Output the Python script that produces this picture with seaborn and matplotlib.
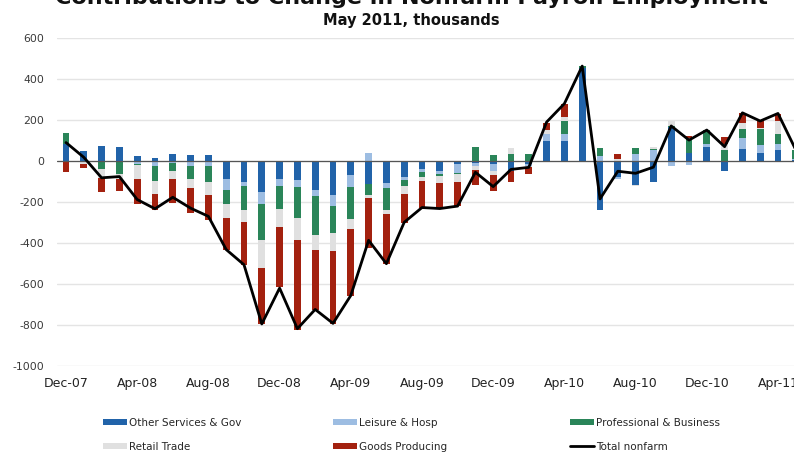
import numpy as np
import pandas as pd
import matplotlib
matplotlib.use("Agg")
import matplotlib.pyplot as plt
import seaborn as sns

months = ["Dec-07", "Jan-08", "Feb-08", "Mar-08", "Apr-08", "May-08", "Jun-08", "Jul-08",
          "Aug-08", "Sep-08", "Oct-08", "Nov-08", "Dec-08", "Jan-09", "Feb-09", "Mar-09",
          "Apr-09", "May-09", "Jun-09", "Jul-09", "Aug-09", "Sep-09", "Oct-09", "Nov-09",
          "Dec-09", "Jan-10", "Feb-10", "Mar-10", "Apr-10", "May-10", "Jun-10", "Jul-10",
          "Aug-10", "Sep-10", "Oct-10", "Nov-10", "Dec-10", "Jan-11", "Feb-11", "Mar-11",
          "Apr-11", "May-11"]

other_gov = [82, 49, 72, 70, 26, 14, 32, 28, 27, -88, -102, -153, -88, -94, -140, -167, -67,
             -110, -107, -80, -41, -50, -13, -10, -15, -49, -15, 100, 100, 455, -240, -80, -115,
             -102, 165, 37, 67, -47, 57, 40, 54, 5]
leisure = [0, -5, -5, -5, -16, -25, -8, -24, -25, -52, -21, -55, -33, -33, -33, -54, -61,
           37, -25, -13, -13, -15, -44, -15, -35, 0, -8, 30, 30, 0, 22, -8, 35,
           52, -25, -20, 16, 0, 57, 40, 29, 5]
professional = [57, 0, -33, -57, -5, -74, -41, -65, -78, -70, -114, -179, -114, -151, -187, -130, -154,
                -56, -107, -28, -23, -8, -5, 67, 30, 36, 33, 0, 65, 8, 40, 0, 29,
                5, 5, 70, 68, 54, 41, 75, 47, 44]
retail = [0, -8, -45, -25, -65, -60, -38, -44, -65, -68, -62, -135, -89, -106, -76, -86, -49,
          -16, -21, -42, -21, -35, -40, -20, -20, 29, -5, 22, 20, 0, 0, 10, -8,
          12, 25, 5, 0, 30, 30, 5, 67, 0]
goods = [-54, -20, -70, -60, -122, -82, -118, -120, -118, -154, -207, -273, -291, -439, -289, -356, -326,
         -243, -241, -137, -131, -120, -118, -72, -75, -54, -37, 35, 62, 0, 0, 25, 0,
         0, 0, 10, 0, 35, 50, 35, 33, 0]
total_nonfarm = [90, 18, -82, -76, -188, -233, -177, -230, -270, -432, -506, -795, -620, -818, -724, -792, -656,
                 -387, -501, -299, -227, -232, -220, -55, -125, -41, -31, 190, 280, 463, -185, -50, -60,
                 -30, 171, 102, 151, 70, 235, 195, 232, 54]

series_names = ["Other Services & Gov", "Leisure & Hosp", "Professional & Business",
                "Retail Trade", "Goods Producing"]
series_colors = ["#2163a9", "#9dbde2", "#2a8559", "#e0e0e0", "#a3210f"]
tick_months = ["Dec-07", "Apr-08", "Aug-08", "Dec-08", "Apr-09", "Aug-09", "Dec-09",
               "Apr-10", "Aug-10", "Dec-10", "Apr-11"]
y_ticks = [-1000, -800, -600, -400, -200, 0, 200, 400, 600]

plt.rcParams["axes.unicode_minus"] = False
sns.set_style("white")
plt.rcParams["font.family"] = ["DejaVu Sans"]

W, H = 794, 453
fig = plt.figure(figsize=(W / 100, H / 100), dpi=100)
ax_left, ax_right, ax_top, ax_bot = 57.1, 804.7, 38, 366
ax = fig.add_axes([ax_left / W, 1 - ax_bot / H, (ax_right - ax_left) / W, (ax_bot - ax_top) / H])

vals = np.array([other_gov, leisure, professional, retail, goods], dtype=float)
pos_cum = np.where(vals > 0, vals, 0).cumsum(axis=0)
neg_cum = np.where(vals < 0, vals, 0).cumsum(axis=0)

for k in reversed(range(len(series_names))):
    for cum, lab in ((pos_cum[k], series_names[k]), (neg_cum[k], None)):
        df = pd.DataFrame({"month": months, "value": cum})
        kw = dict(label=lab) if lab else {}
        sns.barplot(data=df, x="month", y="value", order=months, color=series_colors[k],
                    saturation=1, width=0.38, errorbar=None, linewidth=0, ax=ax, **kw)

sns.lineplot(x=np.arange(len(months)), y=total_nonfarm, color="black", linewidth=2,
             ax=ax, label="Total nonfarm")

ax.set_xlim(-0.5, len(months) - 0.5)
ax.set_ylim(-1000, 600)
ax.set_yticks(y_ticks)
ax.set_yticklabels([str(v) for v in y_ticks])
ax.set_xticks([months.index(m) for m in tick_months])
ax.set_xticklabels(tick_months)
ax.set_xlabel("")
ax.set_ylabel("")
for s in ax.spines.values():
    s.set_visible(False)
ax.grid(axis="y", color="#e4e4e4", linewidth=1.0)
ax.set_axisbelow(True)
ax.axhline(0, color="#555555", linewidth=0.9, zorder=1.5)
ax.tick_params(axis="y", length=0, pad=9.5, labelsize=7.8, labelcolor="#3a3a3a")
ax.tick_params(axis="x", length=0, pad=8, labelsize=9, labelcolor="#222222")

handles, labels = ax.get_legend_handles_labels()
ax.get_legend().remove()
hmap = dict(zip(labels, handles))
cols = [["Other Services & Gov", "Retail Trade"],
        ["Leisure & Hosp", "Goods Producing"],
        ["Professional & Business", "Total nonfarm"]]
col_x = [103, 333, 570]
for cx, names in zip(col_x, cols):
    fig.legend([hmap[n] for n in names], names, loc="upper left",
               bbox_to_anchor=(cx / W, 1 - 418 / H), frameon=False, fontsize=7.5,
               handlelength=2.3, handleheight=0.5, handletextpad=0.2,
               labelspacing=1.3, borderpad=0, borderaxespad=0)

fig.text(411 / W, 1 - 4 / H, "Contributions to Change in Nonfarm Payroll Employment",
         ha="center", va="baseline", fontsize=16, fontweight="bold", color="#111111")
fig.text(411 / W, 1 - 25 / H, "May 2011, thousands", ha="center", va="baseline",
         fontsize=10.5, fontweight="bold", color="#111111")

fig.savefig("out.png", dpi=100)
